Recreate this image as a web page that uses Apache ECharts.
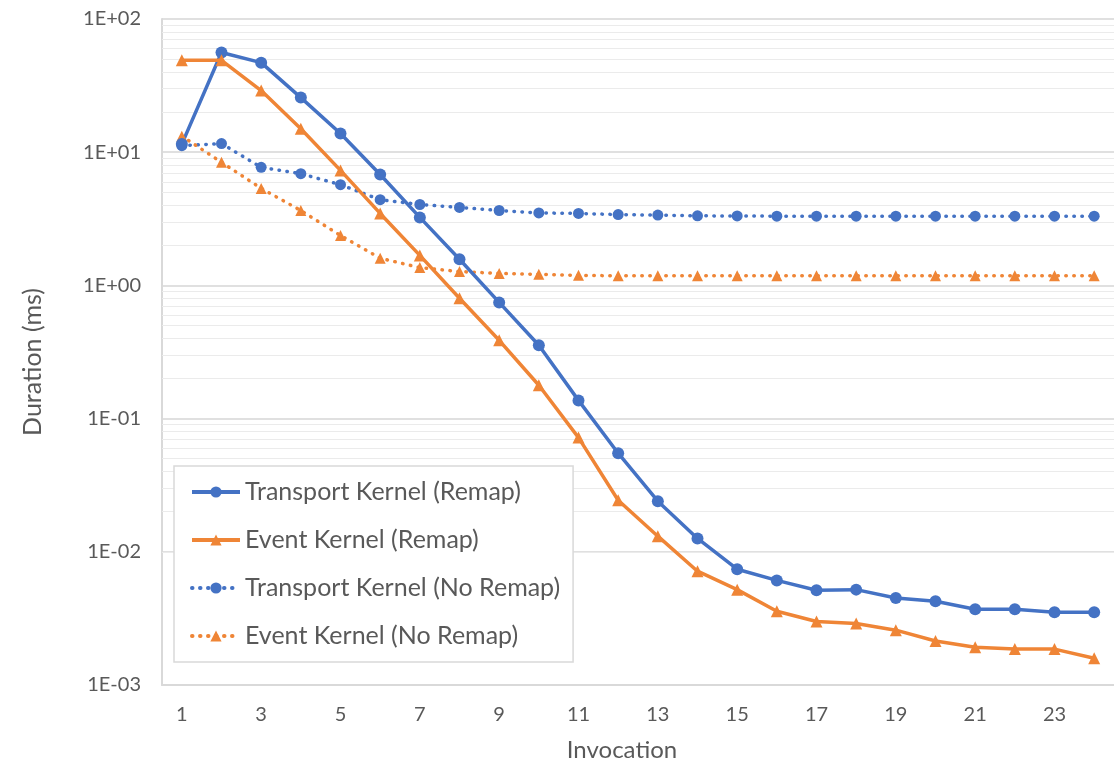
<!DOCTYPE html>
<html><head><meta charset="utf-8">
<script src="https://cdn.jsdelivr.net/npm/echarts@6/dist/echarts.min.js"></script>
<style>html,body{margin:0;padding:0;background:#fff}#c{width:1114px;height:763px}</style>
</head><body><div id="c"></div>
<script>
const categories = ['1','2','3','4','5','6','7','8','9','10','11','12','13','14','15','16','17','18','19','20','21','22','23','24'];
const seriesNames = ['Transport Kernel (Remap)','Event Kernel (Remap)','Transport Kernel (No Remap)','Event Kernel (No Remap)'];
const transportRemap = [11.5,56,47,25.7,13.8,6.8,3.24,1.57,0.745,0.355,0.137,0.055,0.024,0.0126,0.0074,0.0061,0.00515,0.0052,0.0045,0.00426,0.0037,0.0037,0.00352,0.00352];
const eventRemap = [49,49,29,15,7.3,3.47,1.68,0.8,0.387,0.178,0.072,0.0244,0.0131,0.00715,0.0052,0.00358,0.003,0.0029,0.00258,0.00214,0.00192,0.00186,0.00186,0.00159];
const transportNoRemap = [11.2,11.6,7.7,6.9,5.7,4.4,4.05,3.85,3.65,3.5,3.47,3.4,3.37,3.33,3.32,3.31,3.31,3.31,3.31,3.31,3.31,3.31,3.31,3.31];
const eventNoRemap = [13.2,8.4,5.35,3.65,2.37,1.6,1.36,1.27,1.23,1.21,1.19,1.18,1.18,1.18,1.18,1.18,1.18,1.18,1.18,1.18,1.18,1.18,1.18,1.18];
const yMin = 0.001, yMax = 100;
const minorGridValues = [];
for (let e = -3; e < 2; e++) for (let k = 2; k <= 9; k++) minorGridValues.push(k * Math.pow(10, e));

const FONT = 'Lato';
const TXT = '#595959';
const BLUE = '#4472C4', ORANGE = '#EF8536';

function fmtExp(v) {
  const e = Math.round(Math.log10(v));
  return '1E' + (e < 0 ? '-' : '+') + String(Math.abs(e)).padStart(2, '0');
}

const chart = echarts.init(document.getElementById('c'), null, {renderer: 'canvas'});
chart.setOption({
  animation: false,
  backgroundColor: '#fff',
  grid: {left: 162, right: 0, top: 19, bottom: 78, containLabel: false},
  xAxis: {
    type: 'category', data: categories, boundaryGap: true,
    axisLine: {show: true, lineStyle: {color: '#d9d9d9', width: 2}},
    axisTick: {show: false},
    axisLabel: {interval: 1, margin: 20, color: TXT, fontFamily: FONT, fontSize: 20},
    splitLine: {show: false}
  },
  yAxis: {
    type: 'log', logBase: 10, min: yMin, max: yMax,
    axisLine: {show: true, lineStyle: {color: '#d9d9d9', width: 2}},
    axisTick: {show: false},
    axisLabel: {formatter: fmtExp, margin: 21, color: TXT, fontFamily: FONT, fontSize: 20},
    splitLine: {show: true, lineStyle: {color: '#d6d6d6', width: 1.5}}
  },
  legend: {
    orient: 'vertical', left: 174, top: 466, padding: [13, 13, 13, 16],
    itemGap: 22, itemWidth: 48, itemHeight: 14,
    backgroundColor: '#fff', borderColor: '#d9d9d9', borderWidth: 1.5,
    lineStyle: {width: 4},
    textStyle: {color: TXT, fontFamily: FONT, fontSize: 25, lineHeight: 26},
    data: seriesNames
  },
  graphic: [{
    type: 'text', x: 622, y: 750,
    style: {text: 'Invocation', fill: TXT, font: '24px ' + FONT, textAlign: 'center', textVerticalAlign: 'middle'}
  }, {
    type: 'text', x: 33, y: 362, rotation: Math.PI / 2,
    style: {text: 'Duration (ms)', fill: TXT, font: '25px ' + FONT, textAlign: 'center', textVerticalAlign: 'middle'}
  }],
  series: [
    {type: 'line', z: 1, silent: true, data: [],
     markLine: {z: 1, silent: true, symbol: 'none', label: {show: false}, animation: false,
       lineStyle: {color: '#ebebeb', width: 1, type: 'solid'},
       data: minorGridValues.map(v => ({yAxis: v}))}},
    {name: seriesNames[2], type: 'line', data: transportNoRemap, symbol: 'circle', symbolSize: 11,
     itemStyle: {color: BLUE}, lineStyle: {color: BLUE, width: 3.5, type: [0.5, 7.5], cap: 'round'}},
    {name: seriesNames[3], type: 'line', data: eventNoRemap, symbol: 'triangle', symbolSize: 11,
     itemStyle: {color: ORANGE}, lineStyle: {color: ORANGE, width: 3.5, type: [0.5, 7.5], cap: 'round'}},
    {name: seriesNames[0], type: 'line', data: transportRemap, symbol: 'circle', symbolSize: 12,
     itemStyle: {color: BLUE}, lineStyle: {color: BLUE, width: 3.5}},
    {name: seriesNames[1], type: 'line', data: eventRemap, symbol: 'triangle', symbolSize: 12,
     itemStyle: {color: ORANGE}, lineStyle: {color: ORANGE, width: 3.5}}
  ]
});
</script></body></html>
